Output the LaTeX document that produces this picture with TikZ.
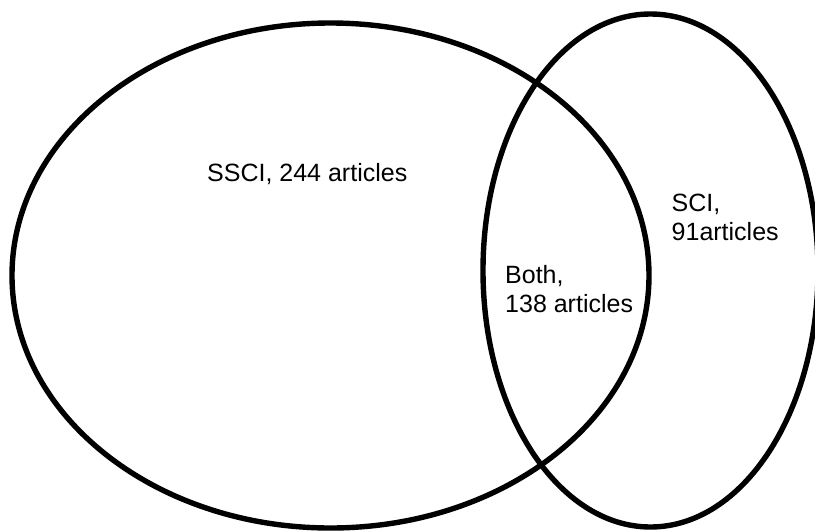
\documentclass[tikz,border=0pt]{standalone}
\usepackage{fontspec}
\setmainfont{Liberation Sans}
\begin{document}
\begin{tikzpicture}[x=1pt,y=-1pt,
  setline/.style={draw=black,line width=5.4pt},
  lbl/.style={inner sep=0pt,anchor=base west,align=left,font=\fontsize{25}{28.8}\selectfont}]
\useasboundingbox (0,0) rectangle (815,531);
\draw[setline] (330.5,275.5) ellipse [x radius=318.5, y radius=252.5];
\draw[setline] (650.5,270.5) ellipse [x radius=167.5, y radius=256.5];
\node[lbl] (ssci) at (207,181) {SSCI, 244 articles};
\node[lbl] (both) at (505,312) {Both,\\138 articles};
\node[lbl] (sci) at (671.5,240.5) {SCI,\\91articles};
\end{tikzpicture}
\end{document}
